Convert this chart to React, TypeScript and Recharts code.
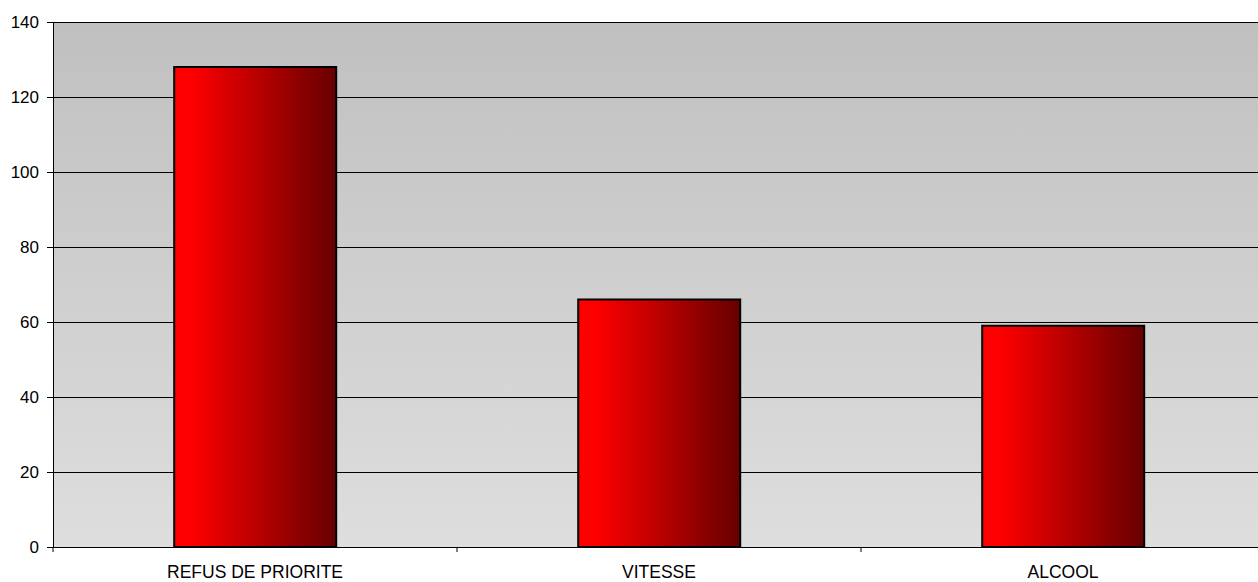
import React from "react";
import { BarChart, Bar, XAxis, YAxis, CartesianGrid } from "recharts";

const categories = ["REFUS DE PRIORITE", "VITESSE", "ALCOOL"];
const counts = [128, 66, 59];
const yTicks = [0, 20, 40, 60, 80, 100, 120, 140];

const data = categories.map((name, i) => ({ name, value: counts[i] }));

const FONT = "'Liberation Sans', Arial, sans-serif";

// label at band center, tick marks on the band edges (like Excel)
const CategoryTick = (props: any) => {
  const { x, y, payload, index, visibleTicksCount } = props;
  const off = payload.offset || 0;
  const isLast = index === visibleTicksCount - 1;
  return (
    <g>
      <line x1={x - off} y1={y} x2={x - off} y2={y + 5} stroke="#000" strokeWidth={1} />
      {isLast && (
        <line x1={x + off} y1={y} x2={x + off} y2={y + 5} stroke="#000" strokeWidth={1} />
      )}
      <text
        x={x}
        y={y + 31}
        textAnchor="middle"
        fill="#000"
        fontSize={17.5}
        fontFamily={FONT}
      >
        {payload.value}
      </text>
    </g>
  );
};

export default function App() {
  return (
    <div
      style={{
        position: "absolute",
        left: 0,
        top: 0,
        width: 1258,
        height: 582,
        overflow: "hidden",
        background: "#fff",
      }}
    >
      <style>{`.recharts-cartesian-grid line, .recharts-cartesian-axis-line, .recharts-cartesian-axis-tick line { shape-rendering: crispEdges; }`}</style>
      {/* plot runs a little past the right edge, as in the original export */}
      <BarChart
        width={1265}
        height={582}
        data={data}
        margin={{ top: 22, right: 0, left: 0, bottom: 0 }}
        barCategoryGap="30%"
      >
        <defs>
          <linearGradient id="plotBg" x1="0" y1="0" x2="0" y2="1">
            <stop offset="0%" stopColor="#c0c0c0" />
            <stop offset="100%" stopColor="#dedede" />
          </linearGradient>
          <linearGradient id="barRed" x1="0" y1="0" x2="1" y2="0">
            <stop offset="0%" stopColor="#ff0000" />
            <stop offset="10%" stopColor="#ff0000" />
            <stop offset="100%" stopColor="#660000" />
          </linearGradient>
        </defs>
        <CartesianGrid
          vertical={false}
          stroke="#000"
          strokeWidth={1}
          fill="url(#plotBg)"
          fillOpacity={1}
        />
        <XAxis
          dataKey="name"
          height={35}
          axisLine={{ stroke: "#000", strokeWidth: 1 }}
          tickLine={false}
          tickSize={0}
          tickMargin={0}
          interval={0}
          tick={<CategoryTick />}
        />
        <YAxis
          width={53}
          domain={[0, 140]}
          ticks={yTicks}
          interval={0}
          axisLine={{ stroke: "#000", strokeWidth: 1 }}
          tickLine={{ stroke: "#000", strokeWidth: 1 }}
          tickSize={6}
          tickMargin={8}
          tick={{ fill: "#000", fontSize: 17, fontFamily: FONT }}
        />
        <Bar
          dataKey="value"
          fill="url(#barRed)"
          stroke="#000"
          strokeWidth={2}
          isAnimationActive={false}
        />
      </BarChart>
    </div>
  );
}
